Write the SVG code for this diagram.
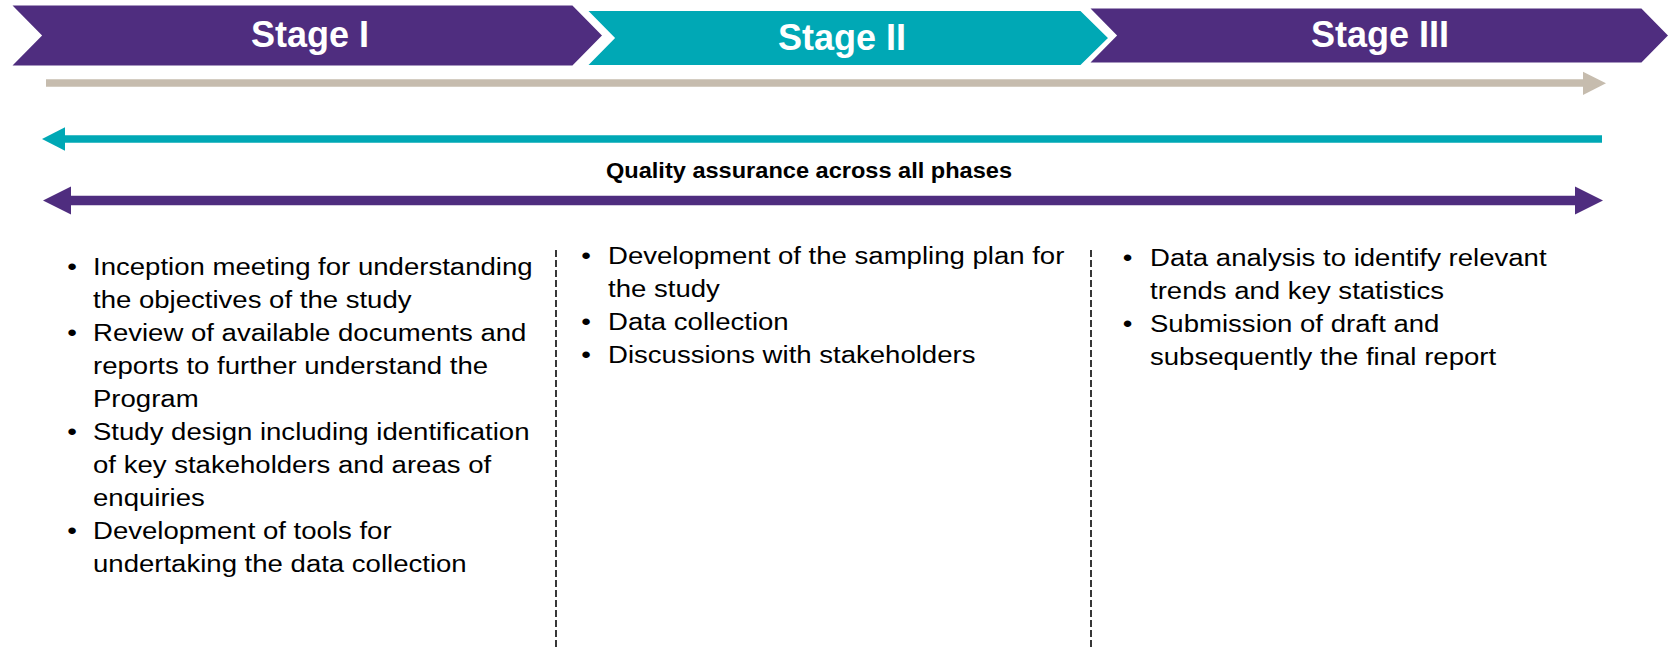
<svg xmlns="http://www.w3.org/2000/svg" width="1671" height="649" viewBox="0 0 1671 649">
<style>
.stage{stroke:#fff;stroke-width:3;stroke-linejoin:miter}
.purple{fill:#4F2D7F}
.teal{fill:#00A8B5}
.title{font-family:"Liberation Sans",Arial,sans-serif;font-weight:bold;font-size:36px;fill:#fff;text-anchor:middle}
.body{font-family:"Liberation Sans",Arial,sans-serif;font-size:24.5px;fill:#000}
.bul{text-anchor:middle}
.qa{font-family:"Liberation Sans",Arial,sans-serif;font-weight:bold;font-size:22px;fill:#000}
.div{stroke:#222;stroke-width:1.8;stroke-dasharray:7 3;fill:none}
</style>
<rect width="1671" height="649" fill="#fff"/>
<g id="stage1">
<polygon class="stage purple" points="9,4 573,4 604,35.5 573,67 9,67 40,35.5"/>
<text class="title" x="310" y="47">Stage I</text>
</g>
<g id="stage2">
<polygon class="stage teal" points="585,9.5 1081,9.5 1110,38 1081,66.5 585,66.5 613,38"/>
<text class="title" x="842" y="50">Stage II</text>
</g>
<g id="stage3">
<polygon class="stage purple" points="1087,7 1642,7 1670,35.5 1642,64 1087,64 1115,35.5"/>
<text class="title" x="1380" y="47">Stage III</text>
</g>
<g id="connectors">
<line x1="46" y1="83" x2="1584" y2="83" stroke="#C6BCAE" stroke-width="7.5"/>
<polygon points="1583,71.7 1606,83.3 1583,95" fill="#C6BCAE"/>
<line x1="64" y1="139" x2="1602" y2="139" stroke="#00A8B5" stroke-width="7.5"/>
<polygon points="65,127.3 42,139 65,150.7" fill="#00A8B5"/>
<line x1="70" y1="200.5" x2="1577" y2="200.5" stroke="#4F2D7F" stroke-width="9.5"/>
<polygon points="71,186.5 43,200.5 71,214.5" fill="#4F2D7F"/>
<polygon points="1575,186.5 1603,200.5 1575,214.5" fill="#4F2D7F"/>
</g>
<g id="qa-label">
<text class="qa" x="606" y="178" textLength="406" lengthAdjust="spacingAndGlyphs">Quality assurance across all phases</text>
</g>
<g id="dividers">
<line class="div" x1="556" y1="250" x2="556" y2="649"/>
<line class="div" x1="1091" y1="250" x2="1091" y2="649"/>
</g>
<g id="col1" class="body" transform="translate(93,0) scale(1.125,1)">
<text class="bul" x="-18.5" y="275">•</text>
<text x="0" y="275">Inception meeting for understanding</text>
<text x="0" y="308">the objectives of the study</text>
<text class="bul" x="-18.5" y="341">•</text>
<text x="0" y="341">Review of available documents and</text>
<text x="0" y="374">reports to further understand the</text>
<text x="0" y="407">Program</text>
<text class="bul" x="-18.5" y="440">•</text>
<text x="0" y="440">Study design including identification</text>
<text x="0" y="473">of key stakeholders and areas of</text>
<text x="0" y="506">enquiries</text>
<text class="bul" x="-18.5" y="539">•</text>
<text x="0" y="539">Development of tools for</text>
<text x="0" y="572">undertaking the data collection</text>
</g>
<g id="col2" class="body" transform="translate(608,0) scale(1.125,1)">
<text class="bul" x="-19.5" y="264">•</text>
<text x="0" y="264">Development of the sampling plan for</text>
<text x="0" y="297">the study</text>
<text class="bul" x="-19.5" y="330">•</text>
<text x="0" y="330">Data collection</text>
<text class="bul" x="-19.5" y="363">•</text>
<text x="0" y="363">Discussions with stakeholders</text>
</g>
<g id="col3" class="body" transform="translate(1150,0) scale(1.125,1)">
<text class="bul" x="-20" y="266">•</text>
<text x="0" y="266">Data analysis to identify relevant</text>
<text x="0" y="299">trends and key statistics</text>
<text class="bul" x="-20" y="332">•</text>
<text x="0" y="332">Submission of draft and</text>
<text x="0" y="365">subsequently the final report</text>
</g>
</svg>
